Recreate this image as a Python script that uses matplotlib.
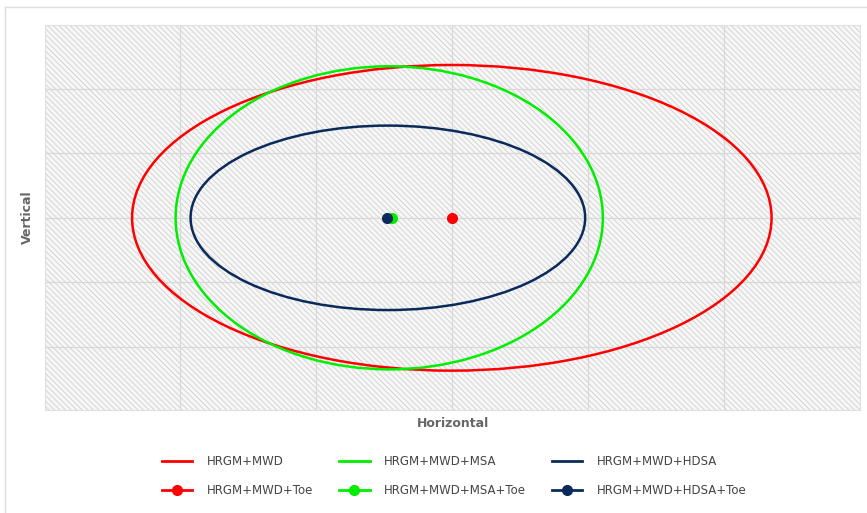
import matplotlib.pyplot as plt
import matplotlib.patches as mpatches
from matplotlib.lines import Line2D

# ellipse data: centre x, centre y, semi-axis horizontal, semi-axis vertical
names = ['HRGM+MWD', 'HRGM+MWD+MSA', 'HRGM+MWD+HDSA']
colors = ['#ff0000', '#00ee00', '#0b2a5c']
cx = [0.0, -0.46, -0.47]
cy = [0.0, 0.0, 0.0]
semi_x = [2.35, 1.57, 1.45]
semi_y = [2.37, 2.35, 1.43]

# toe points
toe_names = ['HRGM+MWD+Toe', 'HRGM+MWD+MSA+Toe', 'HRGM+MWD+HDSA+Toe']
toe_x = [0.0, -0.44, -0.48]
toe_y = [0.0, 0.0, 0.0]

fig = plt.figure(figsize=(8.67, 5.13), dpi=100)
ax = fig.add_axes([45 / 867, 103 / 513, 815 / 867, 385 / 513])

# outer frame (top and left only visible)
fig.add_artist(Line2D([5 / 867, 1], [1 - 7 / 513, 1 - 7 / 513], color='#dddddd', lw=1, transform=fig.transFigure))
fig.add_artist(Line2D([5 / 867, 5 / 867], [0, 1 - 7 / 513], color='#dddddd', lw=1, transform=fig.transFigure))

# hatched background
plt.rcParams['hatch.color'] = '#cfcfcf'
plt.rcParams['hatch.linewidth'] = 0.6
bg = mpatches.Rectangle((0, 0), 1, 1, transform=ax.transAxes, facecolor='#f7f7f7',
                        edgecolor='#cfcfcf', hatch='\\\\\\\\\\\\', lw=0, zorder=0)
ax.add_patch(bg)

for i in range(3):
    e = mpatches.Ellipse((cx[i], cy[i]), 2 * semi_x[i], 2 * semi_y[i], fill=False,
                         edgecolor=colors[i], lw=1.8, zorder=3)
    ax.add_patch(e)

for i in range(3):
    ax.plot(toe_x[i], toe_y[i], 'o', color=colors[i], ms=7, zorder=4 + (i == 2))

ax.set_xlim(-2.99, 3.0)
ax.set_ylim(-2.98, 2.99)
ax.set_xticks([-2, -1, 0, 1, 2])
ax.set_yticks([-2, -1, 0, 1, 2])
ax.grid(True, color='#d8d8d8', lw=0.9, zorder=1)
ax.set_axisbelow(True)
ax.tick_params(length=0, labelbottom=False, labelleft=False)
for s in ax.spines.values():
    s.set_color('#e0e0e0')
    s.set_linewidth(0.8)

ax.set_xlabel('Horizontal', fontsize=9, fontweight='bold', color='#666666', labelpad=5)
ax.set_ylabel('Vertical', fontsize=9, fontweight='bold', color='#666666', labelpad=8)

handles = []
for i in range(3):
    handles.append(Line2D([], [], color=colors[i], lw=2, label=names[i]))
    handles.append(Line2D([], [], color=colors[i], lw=2, marker='o', ms=7, label=toe_names[i]))

fig.legend(handles=handles, ncol=3, loc='center', bbox_to_anchor=(454 / 867, 1 - 476 / 513),
           frameon=False, fontsize=8.5, labelcolor='#444444', handlelength=2.6,
           handletextpad=1.2, columnspacing=2.2, labelspacing=1.3)

fig.savefig('out.png', dpi=100)
